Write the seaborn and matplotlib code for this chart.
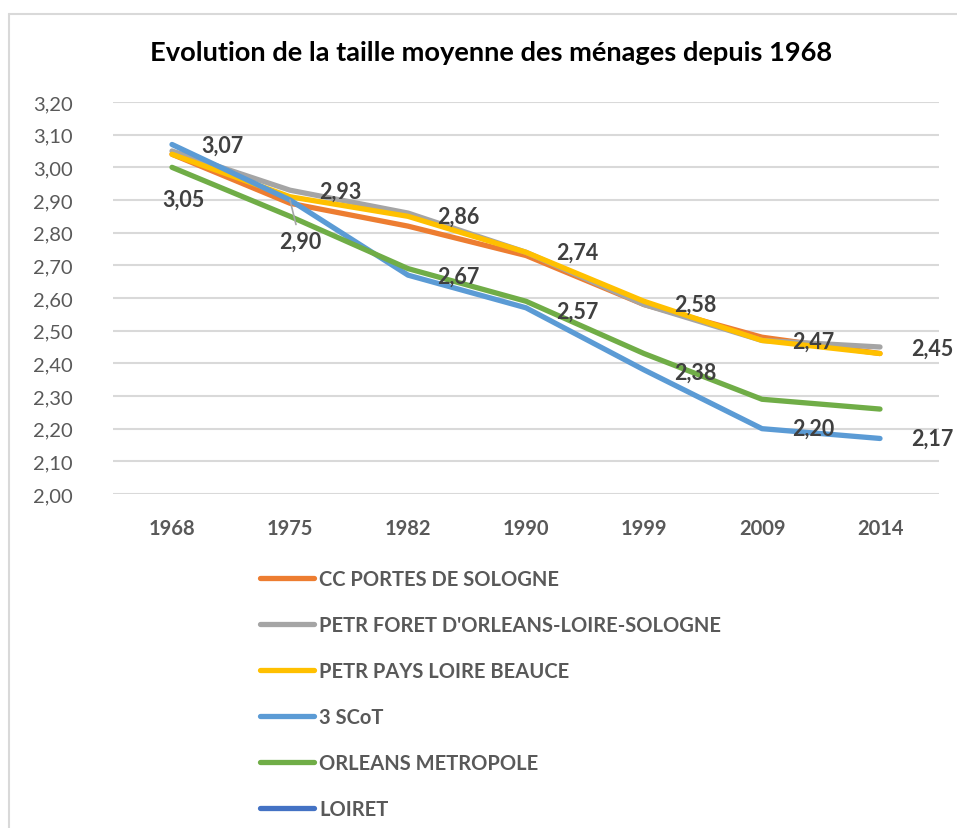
import numpy as np
import pandas as pd
import matplotlib
matplotlib.use("Agg")
import matplotlib.pyplot as plt
from matplotlib.lines import Line2D
import seaborn as sns

# ---- data ----
years = ['1968', '1975', '1982', '1990', '1999', '2009', '2014']
series_names = ['CC PORTES DE SOLOGNE', "PETR FORET D'ORLEANS-LOIRE-SOLOGNE",
                'PETR PAYS LOIRE BEAUCE', '3 SCoT', 'ORLEANS METROPOLE', 'LOIRET']
cc_portes = [3.04, 2.89, 2.82, 2.73, 2.58, 2.48, 2.43]
petr_foret = [3.05, 2.93, 2.86, 2.74, 2.58, 2.47, 2.45]
petr_pays = [3.04, 2.91, 2.85, 2.74, 2.59, 2.47, 2.43]
scot = [3.07, 2.90, 2.67, 2.57, 2.38, 2.20, 2.17]
orleans_metro = [3.00, 2.85, 2.69, 2.59, 2.43, 2.29, 2.26]
loiret = [np.nan] * 7
yticks = [2.00, 2.10, 2.20, 2.30, 2.40, 2.50, 2.60, 2.70, 2.80, 2.90, 3.00, 3.10, 3.20]
title = 'Evolution de la taille moyenne des ménages depuis 1968'

colors = ['#ED7D31', '#A5A5A5', '#FFC000', '#5B9BD5', '#70AD47', '#4472C4']
values = [cc_portes, petr_foret, petr_pays, scot, orleans_metro, loiret]

rows = []
for name, vals in zip(series_names, values):
    for i, (yr, v) in enumerate(zip(years, vals)):
        rows.append({'series': name, 'pos': i, 'year': yr, 'value': v})
df = pd.DataFrame(rows)

# ---- figure ----
sns.set_theme(style='white')
plt.rcParams['font.family'] = ['Lato', 'DejaVu Sans']

W, H = 957, 829
fig = plt.figure(figsize=(W / 100, H / 100), dpi=100)
ax = fig.add_axes([113 / W, 1 - 495 / H, 826 / W, 392 / H])

plot_df = df.dropna(subset=['value'])
palette = dict(zip(series_names, colors))
sns.lineplot(data=plot_df, x='pos', y='value', hue='series',
             hue_order=series_names[:5], palette=palette, ax=ax,
             linewidth=3.8, legend=False, sort=False,
             solid_capstyle='round', solid_joinstyle='round')

ax.set_xlim(-0.5, len(years) - 0.5)
ax.set_ylim(2.00, 3.20)
ax.set_yticks(yticks)
ax.set_yticklabels([f'{t:.2f}'.replace('.', ',') for t in yticks],
                   fontsize=14.5, color='#595959')
ax.set_xticks(range(len(years)))
ax.set_xticklabels(years, fontsize=14.5, color='#595959', fontweight='bold')
ax.tick_params(axis='y', length=0, pad=29)
ax.tick_params(axis='x', length=0, pad=17)
ax.set_xlabel('')
ax.set_ylabel('')
for s in ax.spines.values():
    s.set_visible(False)
ax.yaxis.grid(True, color='#D9D9D9', linewidth=1.5, zorder=0)
ax.xaxis.grid(False)
ax.set_axisbelow(True)

# ---- data labels (on PETR FORET and 3 SCoT) ----
lab_off_foret = [(11, -48), (50, -1), (50, -3), (51, 0), (51, 0), (51, -1), (52, -1)]
lab_off_scot = [(50, -1), (10, -41), (50, -1), (51, -3), (51, -2), (51, 0), (52, 0)]
for vals, offs in ((petr_foret, lab_off_foret), (scot, lab_off_scot)):
    for i, (v, off) in enumerate(zip(vals, offs)):
        txt = f'{v:.2f}'.replace('.', ',')
        kw = {}
        if off[1] < -30 and off[0] < 30 and vals is scot:
            kw['arrowprops'] = dict(arrowstyle='-', color='#A6A6A6', lw=1.2,
                                    shrinkA=2, shrinkB=0)
        ax.annotate(txt, xy=(i, v), xytext=off, textcoords='offset pixels',
                    ha='center', va='center', fontsize=15.5, fontweight='bold',
                    color='#404040', zorder=10, **kw)

# ---- title ----
fig.text(491 / W, 1 - 53 / H, title, ha='center', va='center',
         fontsize=19.6, fontweight='bold', color='black')

# ---- legend ----
handles = [Line2D([], [], color=c, lw=3.8, solid_capstyle='round') for c in colors]
leg = ax.legend(handles, series_names, loc='upper left',
                bbox_to_anchor=(260 / W, 1 - 570 / H), bbox_transform=fig.transFigure,
                frameon=False, borderpad=0, borderaxespad=0,
                handlelength=2.7, handletextpad=0.25, labelspacing=1.29,
                prop={'size': 14.5, 'weight': 'bold'})
for t in leg.get_texts():
    t.set_color('#595959')

# ---- chart border ----
fig.add_artist(Line2D([9 / W, 1.0], [1 - 15 / H, 1 - 15 / H], color='#D9D9D9',
                      lw=1.5, transform=fig.transFigure))
fig.add_artist(Line2D([9 / W, 9 / W], [0, 1 - 15 / H], color='#D9D9D9',
                      lw=1.5, transform=fig.transFigure))

fig.savefig('out.png', dpi=100)
